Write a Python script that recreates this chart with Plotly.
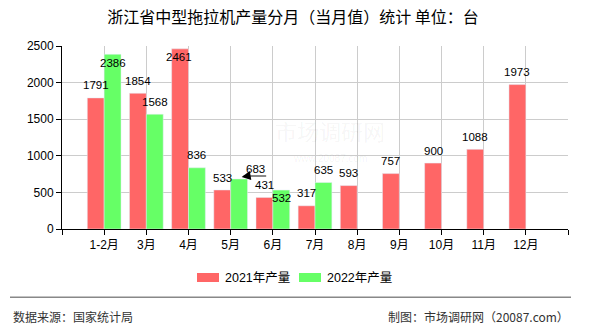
import plotly.graph_objects as go

categories = ["1-2月", "3月", "4月", "5月", "6月", "7月", "8月", "9月", "10月", "11月", "12月"]
series_2021_name = "2021年产量"
series_2022_name = "2022年产量"
values_2021 = [1791, 1854, 2461, 533, 431, 317, 593, 757, 900, 1088, 1973]
values_2022 = [2386, 1568, 836, 683, 532, 635, None, None, None, None, None]
y_ticks = [0, 500, 1000, 1500, 2000, 2500]

title_text = "浙江省中型拖拉机产量分月（当月值）统计 单位：台"
source_text = "数据来源：国家统计局"
credit_text = "制图：市场调研网（20087.com）"

# label placement style (pixel offsets)
dy_2021 = [13, 12, -8, 12, 12.5, 13, 12.5, 12.5, 12.5, 12.5, 12.5]
dx_2021 = [0, 0, -1.5, 0, 0, 0, 0, 0, 0, 0, 0]
dy_2022 = [-8.3, 12.5, 12.5, 10, -7.7, 12.5]
dx_2022 = [0, 0, 0, 16, 0, 0]

RED = "#ff6666"
GREEN = "#66ff66"
NUM_FONT = "Liberation Sans, Arial, Noto Sans CJK SC"
CJK_FONT = "Noto Sans CJK SC, Liberation Sans"

W, H = 590, 330
ML, MR, MT, MB = 62, 22, 46, 101
PW, PH = W - ML - MR, H - MT - MB

def px_x(px):
    return (px - ML) / PW

def px_y(py):
    return (H - MB - py) / PH

xs = list(range(len(categories)))
fig = go.Figure()
fig.add_trace(go.Bar(x=xs, y=values_2021, name=series_2021_name, marker_color=RED,
                     offsetgroup="a", showlegend=False))
fig.add_trace(go.Bar(x=xs, y=values_2022, name=series_2022_name, marker_color=GREEN,
                     offsetgroup="b", showlegend=False))

cat_px = PW / (len(categories) + 1)
half = cat_px * 0.2

annotations = []
for i, v in enumerate(values_2021):
    annotations.append(dict(x=i, y=v, xref="x", yref="y", text=str(v), showarrow=False,
                            xshift=-half + dx_2021[i], yshift=dy_2021[i], yanchor="middle",
                            font=dict(family=NUM_FONT, size=11.5, color="black")))
for i, v in enumerate(values_2022):
    if v is None:
        continue
    annotations.append(dict(x=i, y=v, xref="x", yref="y", text=str(v), showarrow=False,
                            xshift=half + dx_2022[i], yshift=dy_2022[i], yanchor="middle",
                            font=dict(family=NUM_FONT, size=11.5, color="black")))

# callout line for the 5月 2022 label
annotations.append(dict(x=3, y=values_2022[3], xref="x", yref="y", text="", showarrow=True,
                        xshift=13, yshift=3, ax=24, ay=0, arrowhead=0, arrowwidth=2,
                        arrowcolor="#888888"))
annotations.append(dict(x=3, y=values_2022[3], xref="x", yref="y", text="", showarrow=True,
                        xshift=11, yshift=2, ax=6, ay=-1, arrowhead=2, arrowsize=1.2,
                        arrowwidth=1.5, arrowcolor="#000000"))

# watermark
annotations.append(dict(x=px_x(330), y=px_y(130), xref="paper", yref="paper", text="市场调研网",
                        showarrow=False, font=dict(family=CJK_FONT, size=22,
                                                   color="rgba(0,0,0,0.05)")))
annotations.append(dict(x=px_x(330), y=px_y(158), xref="paper", yref="paper", text="www.20087.com",
                        showarrow=False, font=dict(family=NUM_FONT, size=10,
                                                   color="rgba(0,0,0,0.05)")))

# custom legend
shapes = []
legend_items = [(series_2021_name, RED, 197), (series_2022_name, GREEN, 299)]
for name, col, x0 in legend_items:
    shapes.append(dict(type="rect", xref="paper", yref="paper",
                       x0=px_x(x0), x1=px_x(x0 + 22), y0=px_y(282), y1=px_y(273),
                       fillcolor=col, line=dict(width=0)))
    annotations.append(dict(x=px_x(x0 + 26), y=px_y(277.5), xref="paper", yref="paper",
                            text=name, showarrow=False, xanchor="left", yanchor="middle",
                            font=dict(family=NUM_FONT, size=12.5, color="black")))

# footer
shapes.append(dict(type="line", xref="paper", yref="paper", x0=px_x(10), x1=px_x(571),
                   y0=px_y(297.3), y1=px_y(297.3), line=dict(color="#888888", width=1.5)))
annotations.append(dict(x=px_x(11), y=px_y(316), xref="paper", yref="paper", text=source_text,
                        showarrow=False, xanchor="left", yanchor="middle",
                        font=dict(family=CJK_FONT, size=12, color="#333333")))
annotations.append(dict(x=px_x(571), y=px_y(316), xref="paper", yref="paper", text=credit_text,
                        showarrow=False, xanchor="right", yanchor="middle",
                        font=dict(family=CJK_FONT, size=12, color="#333333")))

fig.update_layout(
    width=W, height=H,
    margin=dict(l=ML, r=MR, t=MT, b=MB),
    paper_bgcolor="white", plot_bgcolor="white",
    barmode="group", bargap=0.2, bargroupgap=0,
    title=dict(text=title_text, x=293 / W, xanchor="center", y=1 - 17 / H, yanchor="middle",
               xref="container", yref="container",
               font=dict(family=CJK_FONT, size=16, color="black")),
    xaxis=dict(range=[-1, len(categories)], tickmode="array",
               tickvals=list(range(-1, len(categories) + 1)),
               ticktext=[""] + categories + [""],
               showgrid=True, gridcolor="#cccccc", gridwidth=1,
               showline=True, linecolor="black", linewidth=1,
               ticks="outside", ticklen=5, tickcolor="black", zeroline=False,
               tickfont=dict(family=NUM_FONT, size=12, color="black")),
    yaxis=dict(range=[0, 2500], tickmode="array", tickvals=y_ticks,
               showgrid=True, gridcolor="#cccccc", gridwidth=1,
               showline=True, linecolor="black", linewidth=1,
               ticks="outside", ticklen=5, tickcolor="black", zeroline=False,
               tickfont=dict(family=NUM_FONT, size=12, color="black")),
    annotations=annotations,
    shapes=shapes,
)

fig.write_html("out.html")
